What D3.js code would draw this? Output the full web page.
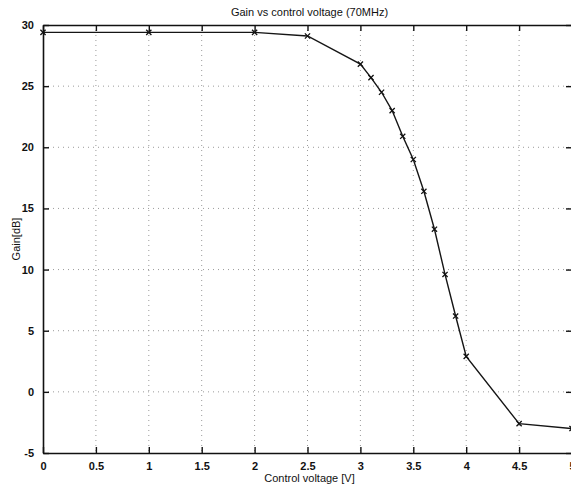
<!DOCTYPE html>
<html>
<head>
<meta charset="utf-8">
<script src="https://cdn.jsdelivr.net/npm/d3@7"></script>
<style>
  html, body { margin: 0; padding: 0; background: #fff; }
  svg { display: block; }
  text { font-family: "Liberation Sans", Arial, Helvetica, sans-serif; fill: #111; }
</style>
</head>
<body>
<svg id="chart" width="571" height="490"></svg>
<script>
// Measured gain of the amplifier against its control voltage at 70 MHz
const voltage = [0, 1, 2, 2.5, 3, 3.1, 3.2, 3.3, 3.4, 3.5, 3.6, 3.7, 3.8, 3.9, 4.0, 4.5, 5.0];
const gainDb  = [29.4, 29.4, 29.4, 29.1, 26.8, 25.7, 24.5, 23.0, 20.9, 19.0, 16.4, 13.3, 9.6, 6.2, 2.9, -2.6, -3.0];

const xTicks = [0, 0.5, 1, 1.5, 2, 2.5, 3, 3.5, 4, 4.5, 5];
const yTicks = [-5, 0, 5, 10, 15, 20, 25, 30];

const titleText = "Gain vs control voltage (70MHz)";
const xLabel = "Control voltage [V]";
const yLabel = "Gain[dB]";

const svg = d3.select("#chart");
const plotLeft = 43, plotRight = 572, plotTop = 25, plotBottom = 453;

const x = d3.scaleLinear().domain([0, 5]).range([plotLeft, plotRight]);
const y = d3.scaleLinear().domain([-5, 30]).range([plotBottom, plotTop]);

// dotted grid
const grid = svg.append("g").attr("stroke", "#9a9a9a").attr("stroke-width", 1)
  .attr("stroke-dasharray", "1,4");
grid.selectAll("line.gx").data(xTicks.slice(1, -1)).join("line")
  .attr("class", "gx")
  .attr("x1", d => x(d)).attr("x2", d => x(d))
  .attr("y1", plotTop).attr("y2", plotBottom);
grid.selectAll("line.gy").data(yTicks.slice(1, -1)).join("line")
  .attr("class", "gy")
  .attr("x1", plotLeft).attr("x2", plotRight)
  .attr("y1", d => y(d)).attr("y2", d => y(d));

// axes with inward ticks on all four sides
const fmt = d => String(d);
const axisStyle = g => {
  g.select(".domain").attr("stroke", "#111").attr("stroke-width", 1.6);
  g.selectAll(".tick line").attr("stroke", "#111").attr("stroke-width", 1.4);
  g.selectAll(".tick text").attr("font-size", 11).attr("font-weight", "bold")
    .attr("font-family", "'Liberation Sans', Arial, sans-serif").attr("fill", "#111");
};

svg.append("g").attr("transform", `translate(0,${plotBottom})`)
  .call(d3.axisBottom(x).tickValues(xTicks).tickFormat(fmt).tickSizeInner(-6).tickSizeOuter(0).tickPadding(9))
  .call(axisStyle);
svg.append("g").attr("transform", `translate(0,${plotTop})`)
  .call(d3.axisTop(x).tickValues(xTicks).tickFormat("").tickSizeInner(-6).tickSizeOuter(0))
  .call(axisStyle);
svg.append("g").attr("transform", `translate(${plotLeft},0)`)
  .call(d3.axisLeft(y).tickValues(yTicks).tickFormat(fmt).tickSizeInner(-6).tickSizeOuter(0).tickPadding(9))
  .call(axisStyle);
svg.append("g").attr("transform", `translate(${plotRight},0)`)
  .call(d3.axisRight(y).tickValues(yTicks).tickFormat("").tickSizeInner(-6).tickSizeOuter(0))
  .call(axisStyle);

// data line
const pts = voltage.map((v, i) => [v, gainDb[i]]);
svg.append("path").datum(pts)
  .attr("fill", "none").attr("stroke", "#151515").attr("stroke-width", 1.4)
  .attr("d", d3.line().x(d => x(d[0])).y(d => y(d[1])));

// x markers
const m = 2.6;
svg.append("g").attr("stroke", "#111").attr("stroke-width", 1.3)
  .selectAll("path").data(pts).join("path")
  .attr("d", d => {
    const cx = x(d[0]), cy = y(d[1]);
    return `M${cx - m},${cy - m}L${cx + m},${cy + m}M${cx - m},${cy + m}L${cx + m},${cy - m}`;
  });

// titles
svg.append("text").attr("x", (plotLeft + plotRight) / 2 + 2).attr("y", 16)
  .attr("text-anchor", "middle").attr("font-size", 11).text(titleText);
svg.append("text").attr("x", (plotLeft + plotRight) / 2 + 2).attr("y", 482)
  .attr("text-anchor", "middle").attr("font-size", 11).text(xLabel);
svg.append("text").attr("transform", `translate(20,${(plotTop + plotBottom) / 2}) rotate(-90)`)
  .attr("text-anchor", "middle").attr("font-size", 11).text(yLabel);
</script>
</body>
</html>
